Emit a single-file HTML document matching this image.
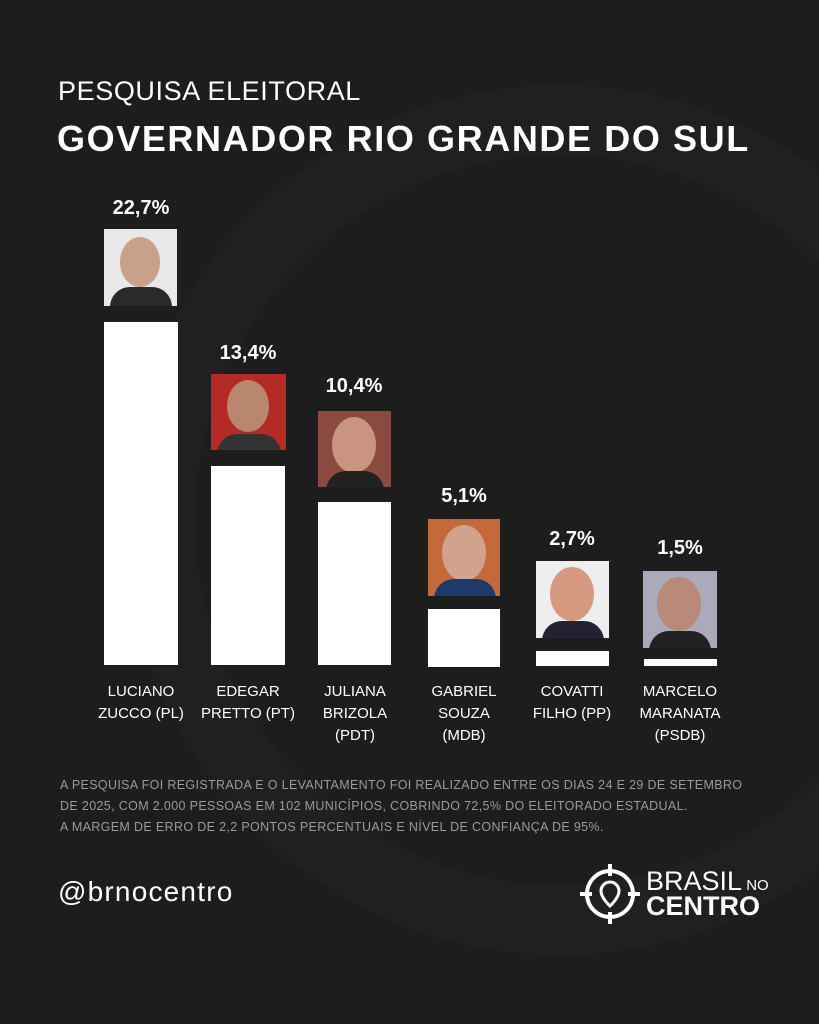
<!DOCTYPE html>
<html><head><meta charset="utf-8"><style>
body{margin:0;width:819px;height:1024px;background:#1d1d1d;overflow:hidden;position:relative;font-family:"Liberation Sans",sans-serif;color:#fff}
.a{position:absolute}
.bar{position:absolute;background:#fff}
.pct{position:absolute;width:110px;text-align:center;font-weight:bold;font-size:20px}
.ph{position:absolute;background:#ddd;overflow:hidden}
.nm{position:absolute;width:120px;text-align:center;font-size:15px;line-height:22px}
.fn{position:absolute;left:60px;font-size:12.5px;color:#9a9a9a;line-height:21px;letter-spacing:0.35px}
</style></head><body>
<svg class="a" style="left:0;top:0" width="819" height="1024"><circle cx="560" cy="520" r="400" fill="none" stroke="#202020" stroke-width="70"/></svg>
<div class="a" style="left:58px;top:76px;font-size:27px;letter-spacing:0.6px">PESQUISA ELEITORAL</div>
<div class="a" style="left:57px;top:118px;font-size:36px;font-weight:bold;letter-spacing:1.6px">GOVERNADOR RIO GRANDE DO SUL</div>

<div class="pct" style="left:86px;top:197px">22,7%</div>
<div class="pct" style="left:193px;top:342px">13,4%</div>
<div class="pct" style="left:299px;top:375px">10,4%</div>
<div class="pct" style="left:409px;top:485px">5,1%</div>
<div class="pct" style="left:517px;top:528px">2,7%</div>
<div class="pct" style="left:625px;top:537px">1,5%</div>

<div class="ph" style="left:104px;top:229px;width:73px;height:77px;background:#e8e8e8"><div class="a" style="left:16px;top:8px;width:40px;height:50px;border-radius:50%;background:#c9a08a"></div><div class="a" style="left:6px;top:58px;width:62px;height:30px;background:#2a2a2a;border-radius:20px 20px 0 0"></div></div>
<div class="ph" style="left:211px;top:374px;width:75px;height:76px;background:#b52a25"><div class="a" style="left:16px;top:6px;width:42px;height:52px;border-radius:50%;background:#b98670"></div><div class="a" style="left:6px;top:60px;width:64px;height:30px;background:#333;border-radius:20px 20px 0 0"></div></div>
<div class="ph" style="left:318px;top:411px;width:73px;height:76px;background:#8a4a40"><div class="a" style="left:14px;top:6px;width:44px;height:56px;border-radius:50%;background:#c99580"></div><div class="a" style="left:8px;top:60px;width:58px;height:30px;background:#222;border-radius:20px 20px 0 0"></div></div>
<div class="ph" style="left:428px;top:519px;width:72px;height:77px;background:#c46a3a"><div class="a" style="left:14px;top:6px;width:44px;height:56px;border-radius:50%;background:#d1a38c"></div><div class="a" style="left:6px;top:60px;width:62px;height:30px;background:#1f3a6a;border-radius:20px 20px 0 0"></div></div>
<div class="ph" style="left:536px;top:561px;width:73px;height:77px;background:#eee"><div class="a" style="left:14px;top:6px;width:44px;height:54px;border-radius:50%;background:#d69a80"></div><div class="a" style="left:6px;top:60px;width:62px;height:30px;background:#223;border-radius:20px 20px 0 0"></div></div>
<div class="ph" style="left:643px;top:571px;width:74px;height:77px;background:#aab"><div class="a" style="left:14px;top:6px;width:44px;height:54px;border-radius:50%;background:#b98a78"></div><div class="a" style="left:6px;top:60px;width:62px;height:30px;background:#222;border-radius:20px 20px 0 0"></div></div>

<div class="bar" style="left:104px;top:322px;width:74px;height:343px"></div>
<div class="bar" style="left:211px;top:466px;width:74px;height:199px"></div>
<div class="bar" style="left:318px;top:502px;width:73px;height:163px"></div>
<div class="bar" style="left:428px;top:609px;width:72px;height:58px"></div>
<div class="bar" style="left:536px;top:651px;width:73px;height:15px"></div>
<div class="bar" style="left:644px;top:659px;width:73px;height:7px"></div>

<div class="nm" style="left:81px;top:681px">LUCIANO<br>ZUCCO (PL)</div>
<div class="nm" style="left:188px;top:681px">EDEGAR<br>PRETTO (PT)</div>
<div class="nm" style="left:295px;top:681px">JULIANA<br>BRIZOLA<br>(PDT)</div>
<div class="nm" style="left:404px;top:681px">GABRIEL<br>SOUZA<br>(MDB)</div>
<div class="nm" style="left:512px;top:681px">COVATTI<br>FILHO (PP)</div>
<div class="nm" style="left:620px;top:681px">MARCELO<br>MARANATA<br>(PSDB)</div>

<div class="fn" style="top:775px">A PESQUISA FOI REGISTRADA E O LEVANTAMENTO FOI REALIZADO ENTRE OS DIAS 24 E 29 DE SETEMBRO<br>DE 2025, COM 2.000 PESSOAS EM 102 MUNICÍPIOS, COBRINDO 72,5% DO ELEITORADO ESTADUAL.<br>A MARGEM DE ERRO DE 2,2 PONTOS PERCENTUAIS E NÍVEL DE CONFIANÇA DE 95%.</div>

<div class="a" style="left:58px;top:876px;font-size:28px;letter-spacing:1.2px">@brnocentro</div>

<svg class="a" style="left:578px;top:862px" width="64" height="64" viewBox="0 0 64 64"><circle cx="32" cy="32" r="23" fill="none" stroke="#fff" stroke-width="4"/><line x1="32" y1="2" x2="32" y2="14" stroke="#fff" stroke-width="4"/><line x1="32" y1="50" x2="32" y2="62" stroke="#fff" stroke-width="4"/><line x1="2" y1="32" x2="14" y2="32" stroke="#fff" stroke-width="4"/><line x1="50" y1="32" x2="62" y2="32" stroke="#fff" stroke-width="4"/><path d="M32 20a9 9 0 0 1 9 9c0 7-9 15-9 15s-9-8-9-15a9 9 0 0 1 9-9z" fill="none" stroke="#fff" stroke-width="3"/></svg>
<div class="a" style="left:646px;top:868px;font-size:27px;line-height:26px">BRASIL<span style="font-size:15px"> NO</span></div>
<div class="a" style="left:646px;top:893px;font-size:27px;font-weight:bold;line-height:26px">CENTRO</div>
</body></html>
